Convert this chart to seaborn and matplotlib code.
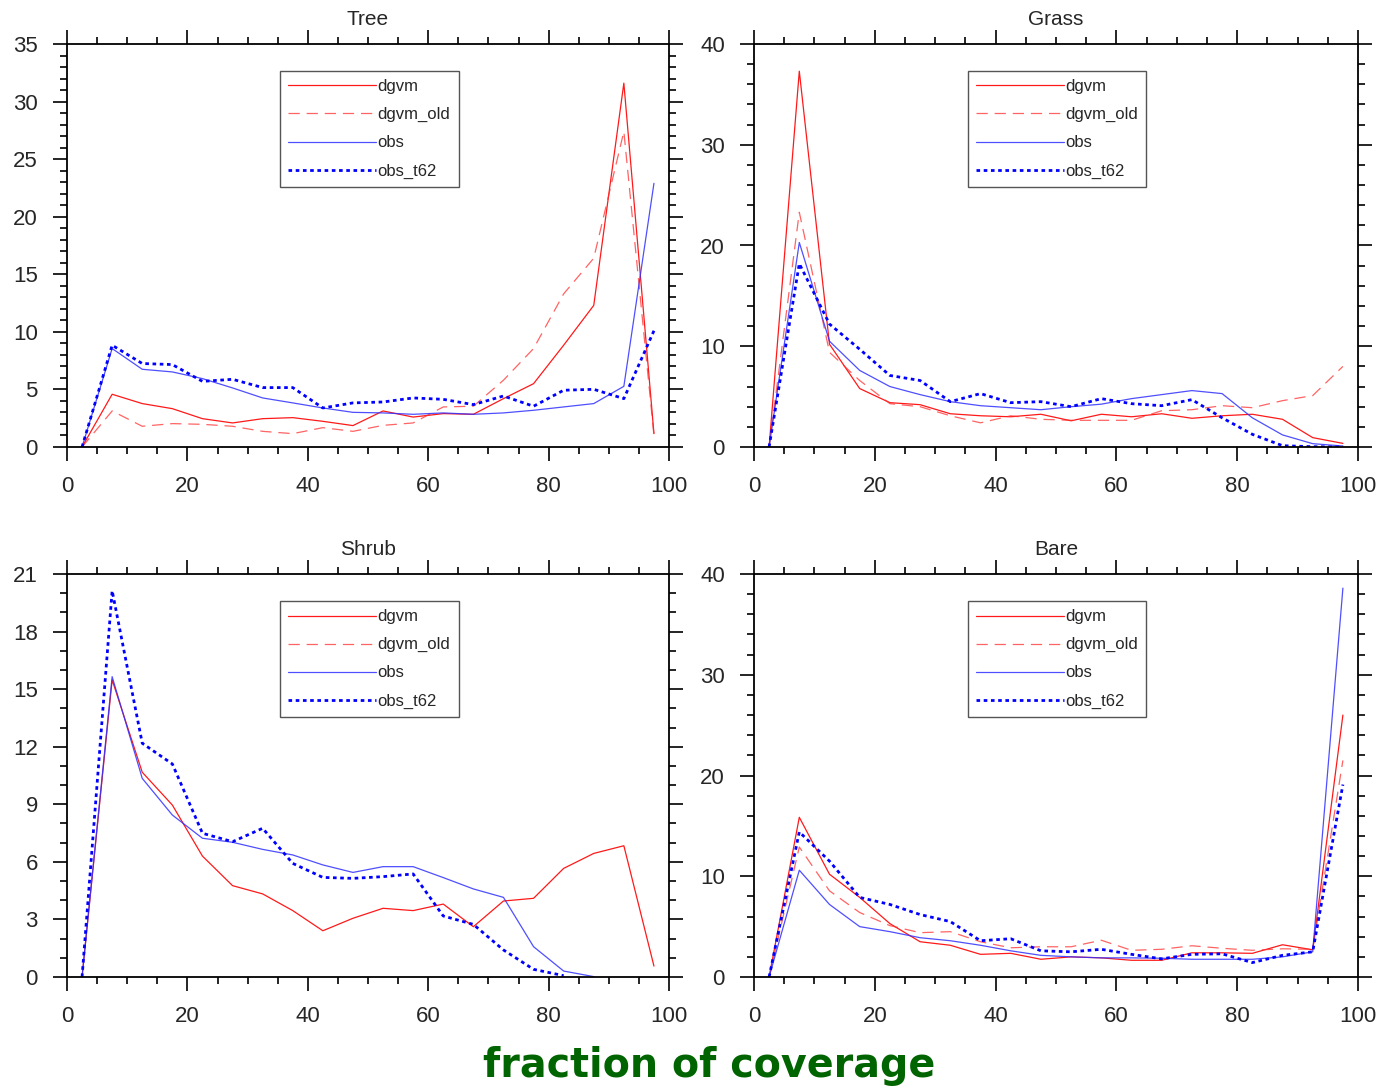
import numpy as np
import pandas as pd
import matplotlib
matplotlib.use("Agg")
import matplotlib.pyplot as plt
from matplotlib.lines import Line2D
from matplotlib.ticker import MultipleLocator
import seaborn as sns

# ---------------- data ----------------
bins = [2.5, 7.5, 12.5, 17.5, 22.5, 27.5, 32.5, 37.5, 42.5, 47.5,
        52.5, 57.5, 62.5, 67.5, 72.5, 77.5, 82.5, 87.5, 92.5, 97.5]
series_names = ["dgvm", "dgvm_old", "obs", "obs_t62"]
panel_titles = ["Tree", "Grass", "Shrub", "Bare"]

tree_dgvm = [0, 4.58, 3.77, 3.33, 2.46, 2.09, 2.46, 2.55, 2.23, 1.86,
             3.13, 2.6, 2.9, 2.84, 4.2, 5.5, 8.84, 12.3, 31.6, 1.16]
tree_dgvm_old = [0, 3.13, 1.8, 2.03, 1.97, 1.8, 1.36, 1.16, 1.68, 1.36,
                 1.88, 2.09, 3.48, 3.54, 5.8, 8.55, 13.3, 16.4, 27.4, 1.0]
tree_obs = [0, 8.55, 6.75, 6.52, 5.94, 5.13, 4.26, 3.83, 3.39, 3.01,
            2.96, 2.84, 2.96, 2.84, 2.96, 3.19, 3.48, 3.77, 5.27, 22.9]
tree_obs_t62 = [0, 8.84, 7.25, 7.16, 5.7, 5.88, 5.16, 5.16, 3.39, 3.83,
                3.91, 4.26, 4.14, 3.68, 4.43, 3.54, 4.93, 5.01, 4.2, 10.1]

grass_dgvm = [0, 37.3, 10.2, 5.8, 4.4, 4.2, 3.3, 3.1, 3.0, 3.25,
              2.6, 3.25, 3.0, 3.3, 2.85, 3.1, 3.25, 2.75, 0.93, 0.36]
grass_dgvm_old = [0, 23.3, 9.4, 6.6, 4.3, 4.0, 3.1, 2.4, 3.1, 2.75,
                  2.65, 2.65, 2.65, 3.6, 3.7, 4.1, 3.9, 4.6, 5.1, 8.0]
grass_obs = [0, 20.3, 10.5, 7.6, 6.0, 5.2, 4.5, 4.1, 3.9, 3.7,
             4.0, 4.25, 4.8, 5.2, 5.6, 5.3, 2.9, 1.2, 0.33, 0.1]
grass_obs_t62 = [0, 18.2, 12.2, 9.7, 7.1, 6.6, 4.5, 5.3, 4.4, 4.5,
                 4.0, 4.8, 4.3, 4.1, 4.7, 2.9, 1.26, 0.13, 0.03, 0]

shrub_dgvm = [0, 15.48, 10.67, 8.96, 6.3, 4.76, 4.33, 3.46, 2.41, 3.06,
              3.58, 3.46, 3.8, 2.62, 3.96, 4.1, 5.66, 6.44, 6.84, 0.57]
shrub_dgvm_old = [np.nan] * 20
shrub_obs = [0, 15.65, 10.35, 8.44, 7.23, 7.02, 6.65, 6.36, 5.84, 5.45,
             5.75, 5.75, 5.18, 4.59, 4.15, 1.58, 0.31, 0.02, np.nan, np.nan]
shrub_obs_t62 = [0, 20.13, 12.18, 11.1, 7.49, 7.05, 7.75, 5.92, 5.19, 5.14,
                 5.23, 5.37, 3.18, 2.74, 1.41, 0.4, 0.07, np.nan, np.nan, np.nan]

bare_dgvm = [0, 15.85, 10.2, 7.9, 5.3, 3.5, 3.15, 2.25, 2.35, 1.76,
             2.0, 1.9, 1.66, 1.66, 2.4, 2.4, 2.35, 3.2, 2.7, 26.0]
bare_dgvm_old = [0, 12.9, 8.55, 6.4, 5.1, 4.4, 4.5, 3.5, 2.9, 3.0,
                 3.0, 3.65, 2.65, 2.75, 3.1, 2.85, 2.65, 2.8, 2.75, 21.5]
bare_obs = [0, 10.6, 7.2, 5.0, 4.5, 3.9, 3.6, 3.15, 2.6, 2.15,
            2.0, 1.9, 1.9, 1.86, 1.76, 1.76, 1.76, 2.0, 2.5, 38.6]
bare_obs_t62 = [0, 14.4, 11.5, 7.9, 7.2, 6.2, 5.5, 3.6, 3.8, 2.6,
                2.5, 2.75, 2.25, 1.8, 2.25, 2.3, 1.43, 2.15, 2.5, 19.1]

panel_data = {
    "Tree": [tree_dgvm, tree_dgvm_old, tree_obs, tree_obs_t62],
    "Grass": [grass_dgvm, grass_dgvm_old, grass_obs, grass_obs_t62],
    "Shrub": [shrub_dgvm, shrub_dgvm_old, shrub_obs, shrub_obs_t62],
    "Bare": [bare_dgvm, bare_dgvm_old, bare_obs, bare_obs_t62],
}
y_limits = {"Tree": (0, 35), "Grass": (0, 40), "Shrub": (0, 21), "Bare": (0, 40)}
y_major = {"Tree": 5, "Grass": 10, "Shrub": 3, "Bare": 10}
y_minor = {"Tree": 1, "Grass": 2, "Shrub": 1, "Bare": 2}

# ---------------- style ----------------
sns.set_style("ticks")
plt.rcParams["font.family"] = ["Liberation Sans", "DejaVu Sans"]

styles = {
    "dgvm": dict(color="#ff0000", linestyle="-", lw=0.9, alpha=0.9),
    "dgvm_old": dict(color="#ff3030", linestyle=(0, (9, 5.5)), lw=0.9, alpha=0.75),
    "obs": dict(color="#3030ff", linestyle="-", lw=0.9, alpha=0.85),
    "obs_t62": dict(color="#0000ff", linestyle=(0, (1.3, 1.3)), lw=2.0, alpha=1.0),
}

W, H = 1376, 1091
fig = plt.figure(figsize=(W / 100, H / 100), dpi=100)
fig.patch.set_facecolor("white")

boxes = {
    "Tree": (67, 44, 669, 447),
    "Grass": (754, 44, 1358, 447),
    "Shrub": (67, 574, 669, 977),
    "Bare": (754, 574, 1358, 977),
}

for title in panel_titles:
    l, t, r, b = boxes[title]
    ax = fig.add_axes([l / W, 1 - b / H, (r - l) / W, (b - t) / H])
    for name, vals in zip(series_names, panel_data[title]):
        df = pd.DataFrame({"x": bins, "y": vals}).dropna()
        if len(df) == 0:
            continue
        st = styles[name]
        sns.lineplot(data=df, x="x", y="y", ax=ax, color=st["color"],
                     linestyle=st["linestyle"], lw=st["lw"], alpha=st["alpha"],
                     legend=False)
    ax.set_xlim(0, 100)
    ax.set_ylim(*y_limits[title])
    ax.set_xlabel("")
    ax.set_ylabel("")
    ax.xaxis.set_major_locator(MultipleLocator(20))
    ax.xaxis.set_minor_locator(MultipleLocator(5))
    ax.yaxis.set_major_locator(MultipleLocator(y_major[title]))
    ax.yaxis.set_minor_locator(MultipleLocator(y_minor[title]))
    ax.tick_params(which="both", direction="out", top=True, right=True,
                   labeltop=False, labelright=False, width=1.2, color="black")
    ax.tick_params(which="major", length=10, labelsize=16, pad=11)
    ax.tick_params(which="minor", length=5)
    for sp in ax.spines.values():
        sp.set_visible(True)
        sp.set_linewidth(1.3)
        sp.set_color("black")
    ax.text(0.5, 1.06, title, transform=ax.transAxes, ha="center",
            va="center", fontsize=15)

    handles = [Line2D([0], [0], color=styles[n]["color"],
                      linestyle=styles[n]["linestyle"], lw=styles[n]["lw"],
                      alpha=styles[n]["alpha"]) for n in series_names]
    leg = ax.legend(handles, series_names, loc="upper left",
                    bbox_to_anchor=(213 / 602, 1 - 27 / 403), borderaxespad=0,
                    fontsize=12, handlelength=5.25, handletextpad=0.1,
                    labelspacing=0.78, borderpad=0.5, fancybox=False,
                    framealpha=1, edgecolor="#555555")
    leg.get_frame().set_linewidth(1.0)

fig.text(709 / W, 1 - 1066 / H, "fraction of coverage",
         ha="center", va="center", color="#006400", fontsize=28.5,
         fontweight="bold", family=["DejaVu Sans"])

fig.savefig("out.png", dpi=100, facecolor="white")
